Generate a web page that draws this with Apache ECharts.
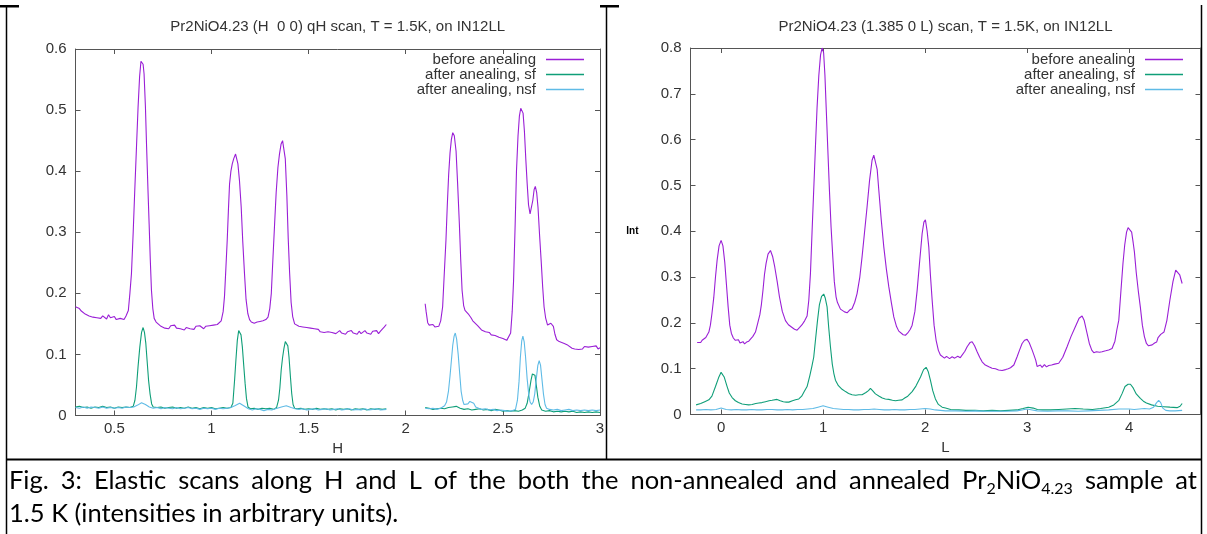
<!DOCTYPE html>
<html>
<head>
<meta charset="utf-8">
<script src="https://cdn.jsdelivr.net/npm/echarts@6/dist/echarts.min.js"></script>
<style>
html,body{margin:0;padding:0;background:#fff;}
#c{width:1207px;height:534px;}
</style>
</head>
<body>
<div id="c"></div>
<script>
// ---------- DATA ----------
const seriesNames = ['before anealing', 'after anealing, sf', 'after anealing, nsf'];
const titleH = 'Pr2NiO4.23 (H  0 0) qH scan, T = 1.5K, on IN12LL';
const titleL = 'Pr2NiO4.23 (1.385 0 L) scan, T = 1.5K, on IN12LL';
const ticksH = [0.5, 1, 1.5, 2, 2.5, 3];
const ticksL = [0, 1, 2, 3, 4];
const captionLine1 = 'Fig. 3: Elastic scans along H and L of the both the non-annealed and annealed Pr{s|2}NiO{s|4.23} sample at';
const captionLine2 = '1.5 K (intensities in arbitrary units).';

// H scan, before annealing (two measured segments)
const hBefore1 = [[0.30,0.178],[0.31,0.176],[0.32,0.175],[0.33,0.171],[0.34,0.168],[0.35,0.166],[0.36,0.168],[0.37,0.163],[0.38,0.164],[0.39,0.161],[0.40,0.163],[0.41,0.160],[0.42,0.162],[0.43,0.159],[0.44,0.163],[0.45,0.161],[0.46,0.158],[0.47,0.165],[0.48,0.160],[0.49,0.158],[0.50,0.162],[0.51,0.157],[0.52,0.160],[0.53,0.159],[0.54,0.162],[0.55,0.157],[0.56,0.163],[0.565,0.160],[0.572,0.172],[0.58,0.200],[0.588,0.232],[0.597,0.300],[0.605,0.368],[0.614,0.440],[0.622,0.504],[0.63,0.555],[0.637,0.580],[0.643,0.583],[0.648,0.575],[0.653,0.559],[0.66,0.505],[0.666,0.440],[0.673,0.370],[0.679,0.314],[0.685,0.255],[0.691,0.205],[0.698,0.175],[0.705,0.159],[0.715,0.153],[0.725,0.151],[0.74,0.146],[0.75,0.149],[0.76,0.143],[0.77,0.145],[0.78,0.142],[0.79,0.147],[0.80,0.144],[0.81,0.148],[0.82,0.143],[0.83,0.146],[0.84,0.142],[0.85,0.145],[0.86,0.140],[0.87,0.144],[0.88,0.146],[0.89,0.142],[0.90,0.145],[0.91,0.141],[0.92,0.146],[0.93,0.143],[0.94,0.147],[0.95,0.144],[0.96,0.142],[0.97,0.146],[0.98,0.144],[0.99,0.147],[1.00,0.145],[1.01,0.148],[1.02,0.146],[1.03,0.149],[1.04,0.151],[1.05,0.155],[1.06,0.170],[1.067,0.195],[1.074,0.240],[1.081,0.287],[1.087,0.335],[1.093,0.379],[1.100,0.400],[1.107,0.412],[1.115,0.421],[1.124,0.428],[1.130,0.425],[1.136,0.412],[1.144,0.385],[1.153,0.341],[1.161,0.285],[1.170,0.232],[1.178,0.190],[1.187,0.167],[1.196,0.157],[1.205,0.153],[1.22,0.151],[1.235,0.153],[1.25,0.154],[1.265,0.155],[1.28,0.157],[1.291,0.161],[1.30,0.175],[1.308,0.200],[1.316,0.255],[1.325,0.314],[1.333,0.365],[1.342,0.406],[1.350,0.428],[1.358,0.444],[1.366,0.450],[1.372,0.447],[1.380,0.420],[1.388,0.360],[1.395,0.290],[1.402,0.235],[1.410,0.185],[1.418,0.162],[1.428,0.150],[1.437,0.147],[1.45,0.146],[1.46,0.143],[1.47,0.145],[1.48,0.142],[1.49,0.144],[1.50,0.141],[1.51,0.143],[1.52,0.140],[1.53,0.142],[1.54,0.139],[1.55,0.141],[1.56,0.137],[1.57,0.139],[1.58,0.136],[1.59,0.139],[1.60,0.137],[1.61,0.140],[1.62,0.136],[1.63,0.138],[1.64,0.134],[1.65,0.137],[1.66,0.139],[1.67,0.135],[1.68,0.138],[1.69,0.133],[1.70,0.137],[1.71,0.134],[1.72,0.139],[1.73,0.135],[1.74,0.137],[1.75,0.133],[1.76,0.138],[1.77,0.134],[1.78,0.136],[1.79,0.139],[1.80,0.135],[1.81,0.137],[1.82,0.133],[1.83,0.138],[1.84,0.136],[1.85,0.139],[1.86,0.134],[1.87,0.138],[1.88,0.137],[1.89,0.145],[1.90,0.149]];
const hBefore2 = [[2.10,0.183],[2.105,0.170],[2.113,0.152],[2.12,0.148],[2.13,0.146],[2.14,0.149],[2.15,0.145],[2.16,0.147],[2.17,0.146],[2.18,0.155],[2.19,0.178],[2.198,0.230],[2.207,0.287],[2.214,0.345],[2.221,0.395],[2.228,0.430],[2.235,0.452],[2.242,0.463],[2.250,0.458],[2.259,0.433],[2.267,0.380],[2.276,0.314],[2.283,0.255],[2.290,0.205],[2.298,0.180],[2.305,0.172],[2.315,0.170],[2.325,0.165],[2.336,0.160],[2.345,0.155],[2.355,0.152],[2.37,0.147],[2.38,0.144],[2.39,0.140],[2.40,0.141],[2.41,0.137],[2.42,0.135],[2.43,0.136],[2.44,0.132],[2.45,0.133],[2.46,0.131],[2.47,0.132],[2.48,0.128],[2.49,0.129],[2.50,0.126],[2.51,0.125],[2.52,0.123],[2.53,0.126],[2.54,0.135],[2.548,0.170],[2.555,0.220],[2.563,0.310],[2.570,0.400],[2.578,0.458],[2.585,0.490],[2.592,0.503],[2.598,0.505],[2.604,0.495],[2.611,0.465],[2.618,0.420],[2.625,0.380],[2.632,0.345],[2.640,0.330],[2.647,0.332],[2.654,0.352],[2.661,0.370],[2.667,0.375],[2.674,0.365],[2.681,0.340],[2.689,0.295],[2.697,0.254],[2.705,0.210],[2.712,0.178],[2.72,0.160],[2.73,0.148],[2.74,0.146],[2.747,0.151],[2.753,0.152],[2.76,0.146],[2.768,0.133],[2.777,0.124],[2.79,0.121],[2.80,0.119],[2.816,0.118],[2.83,0.116],[2.84,0.113],[2.856,0.110],[2.87,0.109],[2.88,0.111],[2.89,0.108],[2.90,0.111],[2.91,0.109],[2.92,0.113],[2.93,0.110],[2.94,0.112],[2.95,0.109],[2.96,0.113],[2.97,0.110],[2.98,0.114],[2.99,0.109],[3.00,0.111]];

// H scan, after annealing, spin flip
const hSf1 = [[0.30,0.014],[0.32,0.015],[0.34,0.013],[0.36,0.014],[0.38,0.012],[0.40,0.014],[0.42,0.013],[0.44,0.015],[0.46,0.013],[0.48,0.014],[0.50,0.012],[0.52,0.014],[0.54,0.013],[0.56,0.014],[0.58,0.013],[0.597,0.015],[0.606,0.025],[0.614,0.047],[0.622,0.080],[0.631,0.112],[0.640,0.136],[0.648,0.144],[0.655,0.136],[0.662,0.118],[0.669,0.088],[0.676,0.058],[0.684,0.035],[0.692,0.019],[0.70,0.014],[0.72,0.013],[0.74,0.014],[0.76,0.012],[0.78,0.013],[0.80,0.014],[0.82,0.012],[0.84,0.013],[0.86,0.012],[0.88,0.014],[0.90,0.012],[0.92,0.013],[0.94,0.011],[0.96,0.013],[0.98,0.012],[1.00,0.013],[1.02,0.011],[1.04,0.012],[1.06,0.013],[1.08,0.012],[1.10,0.013],[1.11,0.020],[1.119,0.058],[1.126,0.092],[1.133,0.123],[1.140,0.139],[1.145,0.142],[1.152,0.132],[1.159,0.112],[1.166,0.082],[1.173,0.053],[1.180,0.028],[1.188,0.014],[1.20,0.011],[1.22,0.012],[1.24,0.010],[1.26,0.012],[1.28,0.011],[1.30,0.012],[1.32,0.010],[1.335,0.013],[1.345,0.025],[1.352,0.045],[1.359,0.075],[1.366,0.095],[1.373,0.110],[1.380,0.121],[1.386,0.123],[1.393,0.114],[1.399,0.096],[1.406,0.065],[1.413,0.036],[1.420,0.018],[1.428,0.012],[1.44,0.011],[1.46,0.012],[1.48,0.010],[1.50,0.011],[1.52,0.010],[1.54,0.012],[1.56,0.010],[1.58,0.011],[1.60,0.010],[1.62,0.011],[1.64,0.009],[1.66,0.011],[1.68,0.010],[1.70,0.011],[1.72,0.009],[1.74,0.011],[1.76,0.010],[1.78,0.011],[1.80,0.009],[1.82,0.011],[1.84,0.010],[1.86,0.011],[1.88,0.010],[1.90,0.011]];
const hSf2 = [[2.10,0.013],[2.12,0.012],[2.14,0.010],[2.16,0.011],[2.18,0.012],[2.20,0.011],[2.22,0.013],[2.24,0.014],[2.26,0.015],[2.28,0.012],[2.30,0.010],[2.32,0.011],[2.34,0.009],[2.36,0.010],[2.38,0.011],[2.40,0.009],[2.42,0.010],[2.44,0.008],[2.46,0.010],[2.48,0.009],[2.50,0.007],[2.52,0.008],[2.54,0.007],[2.56,0.008],[2.58,0.007],[2.60,0.009],[2.615,0.012],[2.625,0.020],[2.635,0.038],[2.645,0.058],[2.652,0.068],[2.658,0.070],[2.665,0.066],[2.672,0.050],[2.68,0.030],[2.69,0.015],[2.70,0.009],[2.72,0.007],[2.74,0.008],[2.76,0.006],[2.78,0.007],[2.80,0.006],[2.82,0.007],[2.84,0.006],[2.86,0.007],[2.88,0.005],[2.90,0.006],[2.92,0.005],[2.94,0.006],[2.96,0.005],[2.98,0.006],[3.00,0.005]];

// H scan, after annealing, non spin flip
const hNsf1 = [[0.30,0.013],[0.32,0.012],[0.34,0.014],[0.36,0.012],[0.38,0.014],[0.40,0.013],[0.42,0.012],[0.44,0.014],[0.46,0.012],[0.48,0.013],[0.50,0.012],[0.52,0.013],[0.54,0.012],[0.56,0.014],[0.58,0.013],[0.60,0.014],[0.62,0.017],[0.64,0.021],[0.66,0.018],[0.68,0.014],[0.70,0.012],[0.72,0.013],[0.74,0.011],[0.76,0.013],[0.78,0.012],[0.80,0.011],[0.82,0.013],[0.84,0.011],[0.86,0.012],[0.88,0.013],[0.90,0.011],[0.92,0.012],[0.94,0.010],[0.96,0.012],[0.98,0.011],[1.00,0.012],[1.02,0.010],[1.04,0.012],[1.06,0.011],[1.08,0.012],[1.10,0.013],[1.12,0.016],[1.145,0.020],[1.17,0.015],[1.19,0.011],[1.21,0.009],[1.23,0.011],[1.25,0.010],[1.27,0.008],[1.29,0.010],[1.31,0.009],[1.33,0.011],[1.36,0.014],[1.385,0.016],[1.41,0.013],[1.43,0.011],[1.45,0.010],[1.47,0.011],[1.49,0.009],[1.51,0.010],[1.53,0.011],[1.55,0.009],[1.57,0.010],[1.59,0.011],[1.61,0.009],[1.63,0.010],[1.65,0.011],[1.67,0.009],[1.69,0.010],[1.71,0.011],[1.73,0.009],[1.75,0.010],[1.77,0.009],[1.79,0.011],[1.81,0.009],[1.83,0.010],[1.85,0.011],[1.87,0.009],[1.90,0.010]];
const hNsf2 = [[2.10,0.012],[2.12,0.011],[2.14,0.012],[2.16,0.010],[2.18,0.012],[2.20,0.016],[2.21,0.022],[2.22,0.040],[2.228,0.065],[2.235,0.090],[2.242,0.115],[2.249,0.130],[2.255,0.135],[2.262,0.125],[2.27,0.100],[2.278,0.068],[2.285,0.040],[2.293,0.025],[2.30,0.018],[2.31,0.016],[2.32,0.019],[2.33,0.023],[2.34,0.024],[2.35,0.020],[2.36,0.014],[2.37,0.011],[2.39,0.010],[2.41,0.011],[2.43,0.009],[2.45,0.010],[2.47,0.008],[2.49,0.009],[2.51,0.008],[2.53,0.007],[2.55,0.008],[2.565,0.010],[2.575,0.025],[2.583,0.055],[2.59,0.095],[2.597,0.122],[2.603,0.130],[2.61,0.120],[2.617,0.095],[2.625,0.060],[2.633,0.035],[2.64,0.022],[2.648,0.018],[2.656,0.022],[2.664,0.035],[2.672,0.060],[2.680,0.082],[2.687,0.090],[2.694,0.082],[2.701,0.060],[2.709,0.035],[2.717,0.018],[2.725,0.012],[2.74,0.010],[2.76,0.009],[2.78,0.010],[2.80,0.008],[2.82,0.009],[2.84,0.010],[2.86,0.008],[2.88,0.009],[2.90,0.008],[2.92,0.009],[2.94,0.008],[2.96,0.009],[2.98,0.008],[3.00,0.009]];

// L scan
const lBefore = [[-0.235,0.157],[-0.22,0.160],[-0.20,0.157],[-0.186,0.162],[-0.17,0.163],[-0.15,0.168],[-0.137,0.172],[-0.12,0.180],[-0.105,0.195],[-0.09,0.220],[-0.072,0.255],[-0.055,0.300],[-0.039,0.337],[-0.02,0.368],[0.0,0.380],[0.018,0.368],[0.036,0.332],[0.052,0.285],[0.069,0.235],[0.085,0.195],[0.101,0.177],[0.12,0.167],[0.14,0.162],[0.157,0.159],[0.17,0.163],[0.185,0.156],[0.20,0.155],[0.215,0.159],[0.23,0.154],[0.25,0.158],[0.271,0.160],[0.29,0.165],[0.31,0.170],[0.337,0.180],[0.36,0.200],[0.38,0.218],[0.395,0.240],[0.41,0.270],[0.425,0.305],[0.441,0.330],[0.46,0.350],[0.484,0.358],[0.505,0.345],[0.526,0.322],[0.55,0.290],[0.572,0.257],[0.60,0.225],[0.631,0.205],[0.66,0.196],[0.696,0.190],[0.72,0.186],[0.745,0.184],[0.77,0.190],[0.794,0.196],[0.82,0.205],[0.843,0.215],[0.86,0.250],[0.876,0.308],[0.892,0.400],[0.908,0.490],[0.925,0.585],[0.941,0.671],[0.958,0.740],[0.975,0.785],[0.99,0.800],[1.005,0.790],[1.018,0.740],[1.03,0.671],[1.046,0.580],[1.062,0.490],[1.078,0.410],[1.095,0.344],[1.11,0.290],[1.127,0.257],[1.14,0.245],[1.153,0.243],[1.17,0.230],[1.186,0.228],[1.21,0.224],[1.235,0.222],[1.26,0.228],[1.284,0.231],[1.31,0.245],[1.333,0.264],[1.36,0.300],[1.382,0.344],[1.405,0.395],[1.431,0.453],[1.455,0.510],[1.480,0.555],[1.497,0.566],[1.513,0.566],[1.53,0.535],[1.546,0.490],[1.57,0.425],[1.595,0.366],[1.62,0.318],[1.644,0.279],[1.67,0.243],[1.693,0.213],[1.72,0.192],[1.742,0.182],[1.76,0.178],[1.785,0.174],[1.807,0.173],[1.83,0.178],[1.855,0.186],[1.873,0.195],[1.90,0.225],[1.922,0.271],[1.945,0.330],[1.971,0.395],[1.988,0.420],[2.003,0.425],[2.02,0.400],[2.036,0.366],[2.052,0.305],[2.069,0.250],[2.088,0.195],[2.108,0.162],[2.13,0.140],[2.15,0.130],[2.167,0.127],[2.19,0.123],[2.21,0.127],[2.24,0.122],[2.265,0.126],[2.29,0.123],[2.32,0.127],[2.345,0.124],[2.363,0.128],[2.39,0.138],[2.412,0.148],[2.44,0.157],[2.461,0.159],[2.485,0.150],[2.510,0.137],[2.535,0.125],[2.559,0.115],[2.59,0.108],[2.625,0.104],[2.657,0.101],[2.69,0.100],[2.72,0.097],[2.755,0.096],[2.79,0.098],[2.815,0.100],[2.837,0.102],[2.87,0.108],[2.902,0.126],[2.925,0.140],[2.951,0.155],[2.975,0.162],[3.000,0.164],[3.02,0.157],[3.049,0.141],[3.07,0.128],[3.085,0.118],[3.098,0.105],[3.115,0.101],[3.13,0.108],[3.147,0.103],[3.17,0.109],[3.19,0.104],[3.212,0.107],[3.24,0.108],[3.27,0.110],[3.31,0.112],[3.35,0.125],[3.392,0.148],[3.43,0.170],[3.474,0.192],[3.51,0.210],[3.539,0.215],[3.56,0.205],[3.588,0.177],[3.61,0.155],[3.635,0.140],[3.654,0.135],[3.68,0.137],[3.71,0.136],[3.735,0.137],[3.77,0.139],[3.80,0.141],[3.833,0.144],[3.861,0.160],[3.88,0.185],[3.899,0.206],[3.92,0.270],[3.94,0.330],[3.957,0.370],[3.975,0.398],[3.99,0.408],[4.006,0.410],[4.025,0.398],[4.04,0.375],[4.052,0.355],[4.07,0.310],[4.09,0.270],[4.11,0.235],[4.13,0.195],[4.15,0.170],[4.17,0.155],[4.19,0.150],[4.205,0.147],[4.226,0.152],[4.25,0.156],[4.27,0.158],[4.284,0.168],[4.31,0.175],[4.342,0.180],[4.37,0.205],[4.40,0.250],[4.43,0.290],[4.457,0.315],[4.475,0.318],[4.496,0.305],[4.52,0.286]];
const lSf = [[-0.245,0.021],[-0.2,0.024],[-0.16,0.028],[-0.12,0.032],[-0.09,0.040],[-0.055,0.061],[-0.025,0.080],[0.0,0.092],[0.012,0.093],[0.03,0.082],[0.059,0.061],[0.08,0.047],[0.108,0.037],[0.14,0.030],[0.17,0.026],[0.206,0.023],[0.24,0.022],[0.27,0.021],[0.304,0.022],[0.34,0.024],[0.37,0.025],[0.40,0.026],[0.435,0.028],[0.47,0.030],[0.50,0.031],[0.549,0.033],[0.58,0.030],[0.61,0.028],[0.64,0.027],[0.664,0.027],[0.70,0.030],[0.73,0.032],[0.762,0.034],[0.79,0.040],[0.815,0.050],[0.843,0.061],[0.87,0.085],[0.89,0.105],[0.908,0.125],[0.925,0.162],[0.945,0.205],[0.964,0.240],[0.985,0.258],[1.006,0.263],[1.02,0.255],[1.039,0.235],[1.055,0.190],[1.072,0.148],[1.09,0.110],[1.105,0.090],[1.121,0.075],[1.15,0.063],[1.186,0.055],[1.22,0.050],[1.25,0.046],[1.284,0.043],[1.32,0.042],[1.35,0.043],[1.382,0.043],[1.42,0.048],[1.445,0.052],[1.464,0.057],[1.485,0.052],[1.513,0.045],[1.55,0.040],[1.58,0.036],[1.61,0.034],[1.644,0.033],[1.68,0.031],[1.71,0.030],[1.74,0.031],[1.775,0.032],[1.80,0.036],[1.83,0.040],[1.873,0.050],[1.91,0.062],[1.955,0.082],[1.985,0.098],[2.01,0.103],[2.03,0.094],[2.052,0.075],[2.075,0.052],[2.101,0.034],[2.13,0.022],[2.167,0.016],[2.20,0.014],[2.25,0.011],[2.33,0.010],[2.40,0.009],[2.49,0.009],[2.57,0.008],[2.657,0.009],[2.74,0.008],[2.82,0.009],[2.90,0.010],[2.96,0.013],[3.01,0.016],[3.06,0.014],[3.10,0.011],[3.15,0.010],[3.23,0.010],[3.31,0.011],[3.39,0.012],[3.47,0.013],[3.55,0.012],[3.64,0.011],[3.72,0.013],[3.80,0.016],[3.85,0.021],[3.90,0.031],[3.93,0.045],[3.96,0.061],[3.99,0.066],[4.013,0.066],[4.04,0.058],[4.07,0.045],[4.11,0.035],[4.14,0.029],[4.17,0.025],[4.22,0.021],[4.28,0.018],[4.34,0.017],[4.40,0.016],[4.47,0.015],[4.50,0.018],[4.52,0.024]];
const lNsf = [[-0.245,0.010],[-0.2,0.010],[-0.15,0.011],[-0.1,0.010],[-0.05,0.011],[0.0,0.014],[0.05,0.011],[0.1,0.010],[0.15,0.011],[0.2,0.010],[0.25,0.010],[0.3,0.011],[0.35,0.010],[0.4,0.010],[0.45,0.011],[0.5,0.011],[0.55,0.010],[0.6,0.010],[0.65,0.011],[0.7,0.010],[0.75,0.011],[0.8,0.011],[0.85,0.012],[0.9,0.013],[0.95,0.016],[1.0,0.019],[1.05,0.016],[1.1,0.013],[1.15,0.012],[1.2,0.011],[1.25,0.011],[1.3,0.010],[1.35,0.010],[1.4,0.011],[1.45,0.011],[1.5,0.012],[1.55,0.011],[1.6,0.010],[1.65,0.010],[1.7,0.011],[1.75,0.010],[1.8,0.010],[1.85,0.011],[1.9,0.011],[1.95,0.012],[2.0,0.013],[2.05,0.012],[2.1,0.010],[2.15,0.009],[2.2,0.008],[2.3,0.008],[2.4,0.007],[2.5,0.008],[2.6,0.007],[2.7,0.007],[2.8,0.007],[2.9,0.008],[2.95,0.010],[3.0,0.012],[3.05,0.010],[3.1,0.008],[3.2,0.007],[3.3,0.008],[3.4,0.008],[3.5,0.007],[3.6,0.008],[3.7,0.009],[3.8,0.010],[3.9,0.012],[3.95,0.012],[4.0,0.012],[4.05,0.011],[4.1,0.012],[4.15,0.013],[4.2,0.012],[4.24,0.016],[4.27,0.026],[4.29,0.031],[4.31,0.026],[4.33,0.014],[4.36,0.009],[4.4,0.008],[4.45,0.008],[4.52,0.009]];

// ---------- STYLE ----------
const colors = ['#9a1fd6', '#0f9e78', '#5fbbe6'];
const FONT = '"Liberation Sans", Arial, sans-serif';
const TXT = '#333';
const AX = '#555';

const gap = [[2.0, '-']];
function join(a, b) { return a.concat(gap, b); }

function axesFor(gi, xmin, xmax, ticks, ymax, xname) {
  const tickStyle = { show: true, inside: true, length: 5, lineStyle: { color: AX } };
  return {
    x: [
      { gridIndex: gi, type: 'value', min: xmin, max: xmax, position: 'bottom',
        name: xname, nameLocation: 'middle', nameGap: 23,
        nameTextStyle: { fontFamily: FONT, fontSize: 15, color: TXT },
        axisLine: { show: true, onZero: false, lineStyle: { color: AX } },
        axisTick: Object.assign({ customValues: ticks }, tickStyle),
        axisLabel: { customValues: ticks, fontFamily: FONT, fontSize: 15, color: TXT, margin: 6 },
        splitLine: { show: false } },
      { gridIndex: gi, type: 'value', min: xmin, max: xmax, position: 'top',
        axisLine: { show: true, onZero: false, lineStyle: { color: AX } },
        axisTick: Object.assign({ customValues: ticks }, tickStyle),
        axisLabel: { show: false }, splitLine: { show: false } }
    ],
    y: [
      { gridIndex: gi, type: 'value', min: 0, max: ymax, interval: 0.1, position: 'left',
        axisLine: { show: true, onZero: false, lineStyle: { color: AX } },
        axisTick: tickStyle,
        axisLabel: { fontFamily: FONT, fontSize: 15, color: TXT, margin: 9 },
        splitLine: { show: false } },
      { gridIndex: gi, type: 'value', min: 0, max: ymax, interval: 0.1, position: 'right',
        axisLine: { show: true, onZero: false, lineStyle: { color: AX } },
        axisTick: tickStyle, axisLabel: { show: false }, splitLine: { show: false } }
    ]
  };
}

const a0 = axesFor(0, 0.3, 3, ticksH, 0.6, 'H');
const a1 = axesFor(1, -0.3, 4.7, ticksL, 0.8, 'L');
a1.y[0].name = 'Int';
a1.y[0].nameLocation = 'middle';
a1.y[0].nameGap = 52;
a1.y[0].nameRotate = 0;
a1.y[0].nameTextStyle = { fontFamily: FONT, fontSize: 10, fontWeight: 'bold', color: '#000' };

function line(name, data, xi, yi, ci) {
  return { name: name, type: 'line', data: data, xAxisIndex: xi, yAxisIndex: yi,
    showSymbol: false, symbol: 'none', connectNulls: false, silent: true,
    lineStyle: { color: colors[ci], width: 1.1 }, itemStyle: { color: colors[ci] } };
}

function legendAt(rightPx) {
  return { data: seriesNames, orient: 'vertical', right: rightPx, top: 52, padding: 0,
    align: 'right', icon: 'rect', itemWidth: 38, itemHeight: 1.3, itemGap: 0, selectedMode: false,
    textStyle: { fontFamily: FONT, fontSize: 15, color: TXT, lineHeight: 14, height: 14, padding: [0, 5, 0, 0] } };
}

// ---------- CAPTION (justified first line, like the source document) ----------
const capFont = 'Lato, "Open Sans", sans-serif';
const capSize = 25.5;
const subSize = 16;
const capLeft = 9, capRight = 1197;
const capRich = { s: { fontFamily: capFont, fontSize: subSize, verticalAlign: 'bottom', lineHeight: subSize, fill: '#000' } };

const mctx = document.createElement('canvas').getContext('2d');
function measureWord(w) {
  let total = 0;
  const re = /\{s\|([^}]*)\}|([^{]+)/g;
  let m;
  while ((m = re.exec(w)) !== null) {
    if (m[1] !== undefined) { mctx.font = subSize + 'px ' + capFont; total += mctx.measureText(m[1]).width; }
    else { mctx.font = capSize + 'px ' + capFont; total += mctx.measureText(m[2]).width; }
  }
  return total;
}
const words1 = captionLine1.split(' ');
const widths1 = words1.map(measureWord);
const natural = widths1.reduce((s, v) => s + v, 0);
const spaceW = (capRight - capLeft - natural) / (words1.length - 1);
const captionGraphics = [];
let cx = capLeft;
words1.forEach((w, i) => {
  captionGraphics.push({ type: 'text', x: cx, y: 481, style: {
    text: w, fontFamily: capFont, fontSize: capSize, lineHeight: 31, fill: '#000', verticalAlign: 'middle', rich: capRich } });
  cx += widths1[i] + spaceW;
});
captionGraphics.push({ type: 'text', x: capLeft, y: 514, style: {
  text: captionLine2, fontFamily: capFont, fontSize: capSize, fill: '#000', verticalAlign: 'middle' } });

const chart = echarts.init(document.getElementById('c'), null, { renderer: 'canvas' });
chart.setOption({
  animation: false,
  backgroundColor: '#fff',
  grid: [
    { left: 75.5, top: 49, width: 524.5, height: 366.5 },
    { left: 690.5, top: 48, width: 510, height: 366.5 }
  ],
  xAxis: a0.x.concat(a1.x),
  yAxis: a0.y.concat(a1.y),
  legend: [legendAt(1207 - 584), legendAt(1207 - 1183)],
  series: [
    line(seriesNames[0], join(hBefore1, hBefore2), 0, 0, 0),
    line(seriesNames[1], join(hSf1, hSf2), 0, 0, 1),
    line(seriesNames[2], join(hNsf1, hNsf2), 0, 0, 2),
    line(seriesNames[0], lBefore, 2, 2, 0),
    line(seriesNames[1], lSf, 2, 2, 1),
    line(seriesNames[2], lNsf, 2, 2, 2)
  ],
  graphic: [
    { type: 'text', x: 337.7, y: 27, style: { text: titleH, fontFamily: FONT, fontSize: 15, fill: TXT, align: 'center', verticalAlign: 'middle' } },
    { type: 'text', x: 945.5, y: 27, style: { text: titleL, fontFamily: FONT, fontSize: 15, fill: TXT, align: 'center', verticalAlign: 'middle' } },
    // table rules
    { type: 'line', shape: { x1: 6.5, y1: 5, x2: 6.5, y2: 534 }, style: { stroke: '#000', lineWidth: 1.5 } },
    { type: 'line', shape: { x1: 606.5, y1: 5, x2: 606.5, y2: 459 }, style: { stroke: '#000', lineWidth: 1.5 } },
    { type: 'line', shape: { x1: 1201.5, y1: 5, x2: 1201.5, y2: 534 }, style: { stroke: '#000', lineWidth: 1.5 } },
    { type: 'line', shape: { x1: 6, y1: 459.5, x2: 1202, y2: 459.5 }, style: { stroke: '#000', lineWidth: 2 } },
    { type: 'rect', shape: { x: 0, y: 5, width: 19, height: 2.5 }, style: { fill: '#000' } },
    { type: 'rect', shape: { x: 600, y: 5, width: 19, height: 2.5 }, style: { fill: '#000' } }
  ].concat(captionGraphics)
});
</script>
</body>
</html>
